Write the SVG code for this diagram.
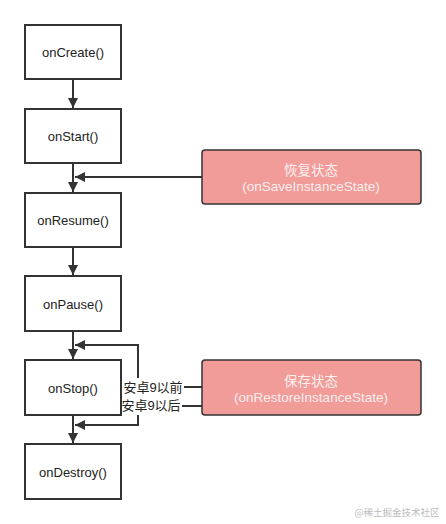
<svg xmlns="http://www.w3.org/2000/svg" width="446" height="524" viewBox="0 0 446 524">
<defs>
<style>
.box{fill:#fff;stroke:#333;stroke-width:2}
.pink{fill:#F19C99;stroke:#333;stroke-width:1.5}
.t{font-family:"Liberation Sans","Noto Sans CJK SC",sans-serif;font-size:13px;fill:#222;text-anchor:middle}
.pt{font-family:"Liberation Sans","Noto Sans CJK SC",sans-serif;font-size:13.5px;fill:#fdeeee;text-anchor:middle}
.lbl{font-family:"Liberation Sans","Noto Sans CJK SC",sans-serif;font-size:13px;fill:#222;text-anchor:middle}
.c{fill:none;stroke:#333;stroke-width:2}
</style>
<marker id="ah" viewBox="0 0 10 10" refX="10" refY="5" markerWidth="5.5" markerHeight="5" orient="auto" markerUnits="strokeWidth">
<path d="M0,0 L10,5 L0,10 Z" fill="#333"/>
</marker>
</defs>
<rect width="446" height="524" fill="#fff"/>
<g id="connectors">
<path class="c" d="M73,79 V108" marker-end="url(#ah)"/>
<path class="c" d="M73,163 V192" marker-end="url(#ah)"/>
<path class="c" d="M73,247 V275" marker-end="url(#ah)"/>
<path class="c" d="M73,331 V359" marker-end="url(#ah)"/>
<path class="c" d="M73,415 V443" marker-end="url(#ah)"/>
<path class="c" d="M202,177 H75" marker-end="url(#ah)"/>
<path class="c" d="M202,387 H138 V345 H75" marker-end="url(#ah)"/>
<path class="c" d="M202,406 H138 V425 H75" marker-end="url(#ah)"/>
<rect x="122" y="378" width="62" height="18" fill="#fff"/>
<rect x="120" y="397" width="62" height="18" fill="#fff"/>
<text class="lbl" x="153" y="392">安卓9以前</text>
<text class="lbl" x="151" y="410">安卓9以后</text>
</g>
<g id="onCreate"><rect class="box" x="25" y="25" width="96" height="54"/><text class="t" x="73" y="57">onCreate()</text></g>
<g id="onStart"><rect class="box" x="25" y="109" width="96" height="54"/><text class="t" x="73" y="141">onStart()</text></g>
<g id="onResume"><rect class="box" x="25" y="193" width="96" height="54"/><text class="t" x="73" y="225">onResume()</text></g>
<g id="onPause"><rect class="box" x="25" y="276" width="96" height="55"/><text class="t" x="73" y="309">onPause()</text></g>
<g id="onStop"><rect class="box" x="25" y="360" width="96" height="55"/><text class="t" x="73" y="393">onStop()</text></g>
<g id="onDestroy"><rect class="box" x="25" y="444" width="96" height="55"/><text class="t" x="73" y="477">onDestroy()</text></g>
<g id="restore"><rect class="pink" x="202" y="150" width="219" height="54" rx="3"/><text class="pt" x="311" y="175">恢复状态</text><text class="pt" x="311" y="191">(onSaveInstanceState)</text></g>
<g id="save"><rect class="pink" x="202" y="360" width="219" height="55" rx="3"/><text class="pt" x="311" y="386">保存状态</text><text class="pt" x="311" y="402">(onRestoreInstanceState)</text></g>
<text x="397" y="516" font-family="'Noto Sans CJK SC',sans-serif" font-size="9.5" fill="#bbb" text-anchor="middle">@稀土掘金技术社区</text>
</svg>
